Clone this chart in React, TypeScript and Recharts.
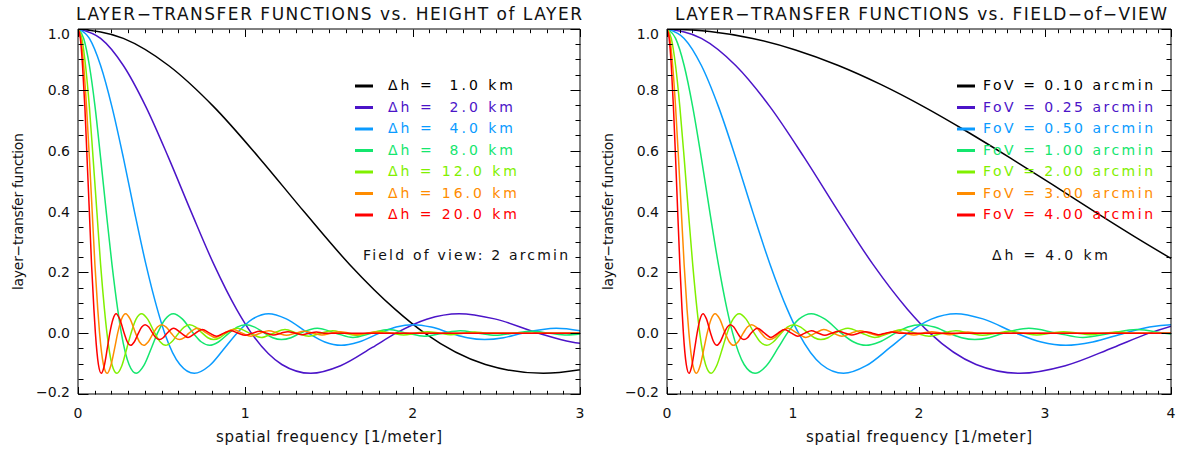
import React from 'react'
import { LineChart, Line, XAxis, YAxis } from 'recharts'

// [spatial frequency, layer-transfer function]
type Pt = [number, number]

const dh1: Pt[] = [[0,1],[0.271,0.969],[0.541,0.88],[0.812,0.744],[1.082,0.577],[1.353,0.398],[1.623,0.226],[1.894,0.079],[2.072,0],[2.435,-0.103],[2.781,-0.132],[3.138,-0.107]]
const dh2: Pt[] = [[0,1],[0.135,0.969],[0.271,0.88],[0.406,0.744],[0.541,0.577],[0.677,0.398],[0.812,0.226],[0.947,0.079],[1.036,0],[1.218,-0.103],[1.391,-0.132],[1.569,-0.107],[1.759,-0.047],[1.9,0],[2.084,0.046],[2.278,0.064],[2.49,0.047],[2.752,0],[2.95,-0.029],[3.144,-0.04]]
const dh4: Pt[] = [[0,1],[0.068,0.969],[0.135,0.88],[0.203,0.744],[0.271,0.577],[0.338,0.398],[0.406,0.226],[0.474,0.079],[0.518,0],[0.609,-0.103],[0.695,-0.132],[0.785,-0.107],[0.879,-0.047],[0.95,0],[1.042,0.046],[1.139,0.064],[1.245,0.047],[1.376,0],[1.475,-0.029],[1.572,-0.04],[1.678,-0.029],[1.802,0],[1.901,0.02],[2.002,0.028],[2.111,0.02],[2.228,0],[2.327,-0.015],[2.43,-0.021],[2.544,-0.015],[2.655,0],[2.858,0.016],[3.079,0]]
const dh8: Pt[] = [[0,1],[0.034,0.969],[0.068,0.88],[0.102,0.744],[0.135,0.577],[0.169,0.398],[0.203,0.226],[0.237,0.079],[0.259,0],[0.305,-0.103],[0.348,-0.132],[0.393,-0.107],[0.44,-0.047],[0.475,0],[0.521,0.046],[0.57,0.064],[0.623,0.047],[0.689,0],[0.738,-0.029],[0.787,-0.04],[0.839,-0.029],[0.902,0],[0.951,0.02],[1.002,0.028],[1.056,0.02],[1.115,0],[1.164,-0.015],[1.216,-0.021],[1.273,-0.015],[1.328,0],[1.43,0.016],[1.541,0],[1.643,-0.014],[1.753,0],[1.856,0.012],[1.967,0],[2.07,-0.01],[2.179,0],[2.283,0.008],[2.392,0],[2.495,-0.007],[2.604,0],[2.708,0.006],[2.818,0],[2.921,-0.006],[3.03,0]]
const dh12: Pt[] = [[0,1],[0.023,0.969],[0.045,0.88],[0.068,0.744],[0.09,0.577],[0.113,0.398],[0.135,0.226],[0.158,0.079],[0.173,0],[0.203,-0.103],[0.232,-0.132],[0.262,-0.107],[0.293,-0.047],[0.317,0],[0.347,0.046],[0.38,0.064],[0.415,0.047],[0.459,0],[0.492,-0.029],[0.524,-0.04],[0.559,-0.029],[0.601,0],[0.634,0.02],[0.667,0.028],[0.704,0.02],[0.743,0],[0.776,-0.015],[0.81,-0.021],[0.848,-0.015],[0.885,0],[0.953,0.016],[1.026,0],[1.095,-0.014],[1.168,0],[1.237,0.012],[1.31,0],[1.379,-0.01],[1.452,0],[1.521,0.008],[1.593,0],[1.662,-0.007],[1.735,0],[1.804,0.006],[1.877,0],[1.946,-0.006],[2.019,0],[2.088,0.005],[2.16,0],[2.228,-0.005],[2.302,0],[2.372,0.004],[2.444,0],[3.0,0]]
const dh16: Pt[] = [[0,1],[0.017,0.969],[0.034,0.88],[0.051,0.744],[0.068,0.577],[0.085,0.398],[0.101,0.226],[0.118,0.079],[0.129,0],[0.152,-0.103],[0.174,-0.132],[0.196,-0.107],[0.22,-0.047],[0.237,0],[0.26,0.046],[0.285,0.064],[0.311,0.047],[0.344,0],[0.368,-0.029],[0.393,-0.04],[0.419,-0.029],[0.45,0],[0.475,0.02],[0.5,0.028],[0.527,0.02],[0.557,0],[0.581,-0.015],[0.607,-0.021],[0.635,-0.015],[0.663,0],[0.714,0.016],[0.769,0],[0.82,-0.014],[0.875,0],[0.927,0.012],[0.982,0],[1.033,-0.01],[1.088,0],[1.14,0.008],[1.194,0],[1.246,-0.007],[1.3,0],[1.352,0.006],[1.407,0],[1.458,-0.006],[1.513,0],[1.565,0.005],[1.619,0],[1.67,-0.005],[1.725,0],[1.778,0.004],[1.832,0],[3.0,0]]
const dh20: Pt[] = [[0,1],[0.014,0.969],[0.027,0.88],[0.041,0.744],[0.054,0.577],[0.068,0.398],[0.081,0.226],[0.095,0.079],[0.104,0],[0.122,-0.103],[0.139,-0.132],[0.157,-0.107],[0.176,-0.047],[0.19,0],[0.209,0.046],[0.228,0.064],[0.249,0.047],[0.276,0],[0.295,-0.029],[0.315,-0.04],[0.336,-0.029],[0.361,0],[0.381,0.02],[0.401,0.028],[0.423,0.02],[0.446,0],[0.466,-0.015],[0.487,-0.021],[0.509,-0.015],[0.532,0],[0.572,0.016],[0.617,0],[0.658,-0.014],[0.702,0],[0.743,0.012],[0.787,0],[0.828,-0.01],[0.872,0],[0.914,0.008],[0.957,0],[0.999,-0.007],[1.043,0],[1.084,0.006],[1.128,0],[1.169,-0.006],[1.213,0],[1.255,0.005],[1.298,0],[1.339,-0.005],[1.383,0],[1.425,0.004],[1.469,0],[3.0,0]]

const fov010: Pt[] = [[0,1],[0.34,0.992],[0.68,0.969],[1.02,0.931],[1.36,0.88],[1.7,0.817],[2.04,0.744],[2.38,0.663],[2.72,0.577],[3.06,0.488],[3.4,0.398],[3.74,0.31],[4.08,0.226]]
const fov025: Pt[] = [[0,1],[0.273,0.969],[0.545,0.88],[0.818,0.744],[1.09,0.577],[1.363,0.398],[1.635,0.226],[1.908,0.079],[2.087,0],[2.453,-0.103],[2.801,-0.132],[3.161,-0.107],[3.543,-0.047],[3.826,0],[4.197,0.046]]
const fov050: Pt[] = [[0,1],[0.136,0.969],[0.273,0.88],[0.409,0.744],[0.545,0.577],[0.681,0.398],[0.818,0.226],[0.954,0.079],[1.044,0],[1.226,-0.103],[1.401,-0.132],[1.581,-0.107],[1.771,-0.047],[1.913,0],[2.098,0.046],[2.294,0.064],[2.507,0.047],[2.771,0],[2.97,-0.029],[3.166,-0.04],[3.379,-0.029],[3.63,0],[3.829,0.02],[4.033,0.028],[4.251,0.02]]
const fov100: Pt[] = [[0,1],[0.068,0.969],[0.136,0.88],[0.204,0.744],[0.272,0.577],[0.34,0.398],[0.408,0.226],[0.476,0.079],[0.521,0],[0.612,-0.103],[0.699,-0.132],[0.789,-0.107],[0.884,-0.047],[0.955,0],[1.047,0.046],[1.145,0.064],[1.251,0.047],[1.383,0],[1.482,-0.029],[1.58,-0.04],[1.686,-0.029],[1.812,0],[1.911,0.02],[2.013,0.028],[2.122,0.02],[2.24,0],[2.339,-0.015],[2.443,-0.021],[2.557,-0.015],[2.668,0],[2.872,0.016],[3.095,0],[3.301,-0.014],[3.522,0],[3.729,0.012],[3.951,0],[4.158,-0.01]]
const fov200: Pt[] = [[0,1],[0.034,0.969],[0.068,0.88],[0.102,0.744],[0.136,0.577],[0.17,0.398],[0.204,0.226],[0.238,0.079],[0.26,0],[0.306,-0.103],[0.35,-0.132],[0.394,-0.107],[0.442,-0.047],[0.477,0],[0.524,0.046],[0.573,0.064],[0.626,0.047],[0.692,0],[0.741,-0.029],[0.79,-0.04],[0.843,-0.029],[0.906,0],[0.955,0.02],[1.006,0.028],[1.061,0.02],[1.12,0],[1.17,-0.015],[1.221,-0.021],[1.278,-0.015],[1.334,0],[1.436,0.016],[1.548,0],[1.65,-0.014],[1.761,0],[1.865,0.012],[1.975,0],[2.079,-0.01],[2.189,0],[2.293,0.008],[2.402,0],[2.506,-0.007],[2.616,0],[2.72,0.006],[2.83,0],[2.934,-0.006],[3.044,0],[3.148,0.005],[3.257,0],[3.359,-0.005],[3.471,0],[3.577,0.004],[3.686,0],[4.0,0]]
const fov300: Pt[] = [[0,1],[0.023,0.969],[0.045,0.88],[0.068,0.744],[0.091,0.577],[0.114,0.398],[0.136,0.226],[0.159,0.079],[0.174,0],[0.204,-0.103],[0.233,-0.132],[0.263,-0.107],[0.295,-0.047],[0.319,0],[0.35,0.046],[0.382,0.064],[0.418,0.047],[0.462,0],[0.495,-0.029],[0.528,-0.04],[0.563,-0.029],[0.605,0],[0.638,0.02],[0.672,0.028],[0.708,0.02],[0.748,0],[0.781,-0.015],[0.815,-0.021],[0.854,-0.015],[0.891,0],[0.959,0.016],[1.033,0],[1.102,-0.014],[1.176,0],[1.245,0.012],[1.319,0],[1.388,-0.01],[1.461,0],[1.531,0.008],[1.604,0],[1.673,-0.007],[1.747,0],[1.816,0.006],[1.89,0],[1.959,-0.006],[2.032,0],[2.102,0.005],[2.175,0],[2.243,-0.005],[2.317,0],[2.388,0.004],[2.461,0],[4.0,0]]
const fov400: Pt[] = [[0,1],[0.017,0.969],[0.034,0.88],[0.051,0.744],[0.068,0.577],[0.085,0.398],[0.102,0.226],[0.119,0.079],[0.13,0],[0.153,-0.103],[0.175,-0.132],[0.197,-0.107],[0.221,-0.047],[0.239,0],[0.262,0.046],[0.286,0.064],[0.313,0.047],[0.346,0],[0.371,-0.029],[0.395,-0.04],[0.422,-0.029],[0.453,0],[0.478,0.02],[0.503,0.028],[0.53,0.02],[0.56,0],[0.585,-0.015],[0.611,-0.021],[0.639,-0.015],[0.667,0],[0.718,0.016],[0.774,0],[0.825,-0.014],[0.881,0],[0.932,0.012],[0.988,0],[1.039,-0.01],[1.094,0],[1.146,0.008],[1.201,0],[1.253,-0.007],[1.308,0],[1.36,0.006],[1.415,0],[1.467,-0.006],[1.522,0],[1.574,0.005],[1.629,0],[1.68,-0.005],[1.735,0],[1.788,0.004],[1.843,0],[4.0,0]]

const colors = ['#000000', '#4b14c8', '#0a9bff', '#14e66e', '#80f000', '#ff8c00', '#ff0000']
const dhLabels = [' 1.0', ' 2.0', ' 4.0', ' 8.0', '12.0', '16.0', '20.0']
const fovLabels = ['0.10', '0.25', '0.50', '1.00', '2.00', '3.00', '4.00']

const xTicksL = [0,0.1,0.2,0.3,0.4,0.5,0.6,0.7,0.8,0.9,1,1.1,1.2,1.3,1.4,1.5,1.6,1.7,1.8,1.9,2,2.1,2.2,2.3,2.4,2.5,2.6,2.7,2.8,2.9,3]
const xTicksR = [0,0.1,0.2,0.3,0.4,0.5,0.6,0.7,0.8,0.9,1,1.1,1.2,1.3,1.4,1.5,1.6,1.7,1.8,1.9,2,2.1,2.2,2.3,2.4,2.5,2.6,2.7,2.8,2.9,3,3.1,3.2,3.3,3.4,3.5,3.6,3.7,3.8,3.9,4]
const xMajorL = [0, 1, 2, 3]
const xMajorR = [0, 1, 2, 3, 4]
const yTicks = [-0.2,-0.15,-0.1,-0.05,0,0.05,0.1,0.15,0.2,0.25,0.3,0.35,0.4,0.45,0.5,0.55,0.6,0.65,0.7,0.75,0.8,0.85,0.9,0.95,1]
const yMajor = [-0.2, 0, 0.2, 0.4, 0.6, 0.8, 1.0]

const FONT = "'DejaVu Sans', sans-serif"
const INK = '#111'
const PLOT_H = 365

const toPts = (a: Pt[]) => a.map(([f, v]) => ({ f, v }))
const isMajor = (v: number, majors: number[]) => majors.some((m) => Math.abs(m - v) < 1e-6)

function AxisTick(props: any) {
  const { x, y, payload, majors, side } = props
  const v = payload.value as number
  const major = isMajor(v, majors)
  const xLen = major ? 7.5 : 3.7
  const yLen = major ? 10 : 5
  const px = Math.round(Number(x)) + 0.5
  const py = Math.round(Number(y)) + 0.5
  if (side === 'bottom') {
    // the top frame gets the same ticks, mirrored
    const top = py - PLOT_H
    return (
      <g>
        <path d={`M${px},${py}V${py - xLen}M${px},${top}V${top + xLen}`} stroke="#000" strokeWidth={1} fill="none" />
        {major && (
          <text x={x} y={y + 24} textAnchor="middle" fontSize={14} fontFamily={FONT} fill={INK} stroke="none">{String(v)}</text>
        )}
      </g>
    )
  }
  if (side === 'right') return <path d={`M${px},${py}H${px - yLen}`} stroke="#000" strokeWidth={1} fill="none" />
  const dy = v === 1 ? 9.8 : v === -0.2 ? 2.5 : 5
  return (
    <g>
      <path d={`M${px},${py}H${px + yLen}`} stroke="#000" strokeWidth={1} fill="none" />
      {major && (
        <text x={x - 8} y={y + dy} textAnchor="end" fontSize={14} fontFamily={FONT} fill={INK} stroke="none">
          {v.toFixed(1).replace('-', '\u2212')}
        </text>
      )}
    </g>
  )
}

function Panel({ series, xMax, xTicks, xMajor, left, width, marginLeft }: {
  series: Pt[][]; xMax: number; xTicks: number[]; xMajor: number[]; left: number; width: number; marginLeft: number
}) {
  return (
    <div style={{ position: 'absolute', left, top: 0 }}>
      <LineChart width={width} height={450} margin={{ top: 19, right: 10, bottom: 26, left: marginLeft }}>
        <XAxis dataKey="f" type="number" domain={[0, xMax]} allowDataOverflow ticks={xTicks} interval={0}
          tickSize={0} tickMargin={0} tickLine={false} height={30} axisLine={{ stroke: '#000' }}
          tick={(p: any) => <AxisTick {...p} majors={xMajor} side="bottom" />} />
        <XAxis xAxisId="top" orientation="top" type="number" domain={[0, xMax]} allowDataOverflow
          tick={false} tickLine={false} height={10} axisLine={{ stroke: '#000' }} />
        <YAxis type="number" domain={[-0.2, 1]} allowDataOverflow ticks={yTicks} interval={0}
          tickSize={0} tickMargin={0} tickLine={false} width={40} axisLine={{ stroke: '#000' }}
          tick={(p: any) => <AxisTick {...p} majors={yMajor} side="left" />} />
        <YAxis yAxisId="right" orientation="right" type="number" domain={[-0.2, 1]} allowDataOverflow ticks={yTicks}
          interval={0} tickSize={0} tickMargin={0} tickLine={false} width={10} axisLine={{ stroke: '#000' }}
          tick={(p: any) => <AxisTick {...p} majors={yMajor} side="right" />} />
        {series.map((s, i) => (
          <Line key={i} data={toPts(s)} dataKey="v" type="monotone" stroke={colors[i]} strokeWidth={1.5}
            dot={false} activeDot={false} isAnimationActive={false} />
        ))}
      </LineChart>
    </div>
  )
}

const rowY = [90, 111.5, 133, 154.5, 176, 197.5, 219]

export default function App() {
  return (
    <div style={{ position: 'absolute', left: 0, top: 0, width: 1191, height: 450, background: '#fff' }}>
      <Panel series={[dh1, dh2, dh4, dh8, dh12, dh16, dh20]} xMax={3} xTicks={xTicksL} xMajor={xMajorL}
        left={0} width={600} marginLeft={38} />
      <Panel series={[fov010, fov025, fov050, fov100, fov200, fov300, fov400]} xMax={4} xTicks={xTicksR} xMajor={xMajorR}
        left={595} width={596} marginLeft={32} />
      <svg width={1191} height={450} style={{ position: 'absolute', left: 0, top: 0, pointerEvents: 'none' }}
        fontFamily={FONT} fill={INK}>
        <text x={329} y={19.5} fontSize={17} textAnchor="middle" textLength={506} lengthAdjust="spacing">
          LAYER−TRANSFER FUNCTIONS vs. HEIGHT of LAYER
        </text>
        <text x={921} y={19.5} fontSize={17} textAnchor="middle" textLength={492} lengthAdjust="spacing">
          LAYER−TRANSFER FUNCTIONS vs. FIELD−of−VIEW
        </text>
        <text x={329} y={442} fontSize={15} textAnchor="middle" textLength={226} lengthAdjust="spacing">
          spatial frequency [1/meter]
        </text>
        <text x={919} y={442} fontSize={15} textAnchor="middle" textLength={226} lengthAdjust="spacing">
          spatial frequency [1/meter]
        </text>
        <text transform="translate(23,211.5) rotate(-90)" fontSize={14} textAnchor="middle" textLength={157} lengthAdjust="spacing">
          layer−transfer function
        </text>
        <text transform="translate(613,211.5) rotate(-90)" fontSize={14} textAnchor="middle" textLength={157} lengthAdjust="spacing">
          layer−transfer function
        </text>
        {dhLabels.map((d, i) => (
          <g key={d}>
            <line x1={355} x2={373} y1={rowY[i] - 4} y2={rowY[i] - 4} stroke={colors[i]} strokeWidth={3} />
            <text x={388} y={rowY[i]} fontSize={14} fill={colors[i]} style={{ whiteSpace: 'pre' }}
              textLength={d.startsWith(' ') ? 125 : 129} lengthAdjust="spacing">
              {`\u0394h = ${d} km`}
            </text>
          </g>
        ))}
        {fovLabels.map((d, i) => (
          <g key={d}>
            <line x1={957} x2={975} y1={rowY[i] - 4} y2={rowY[i] - 4} stroke={colors[i]} strokeWidth={3} />
            <text x={983} y={rowY[i]} fontSize={14} fill={colors[i]} textLength={170} lengthAdjust="spacing">
              {`FoV = ${d} arcmin`}
            </text>
          </g>
        ))}
        <text x={363} y={260} fontSize={14} textLength={205} lengthAdjust="spacing">Field of view: 2 arcmin</text>
        <text x={992} y={260} fontSize={14} textLength={116} lengthAdjust="spacing">{'\u0394h = 4.0 km'}</text>
      </svg>
    </div>
  )
}
